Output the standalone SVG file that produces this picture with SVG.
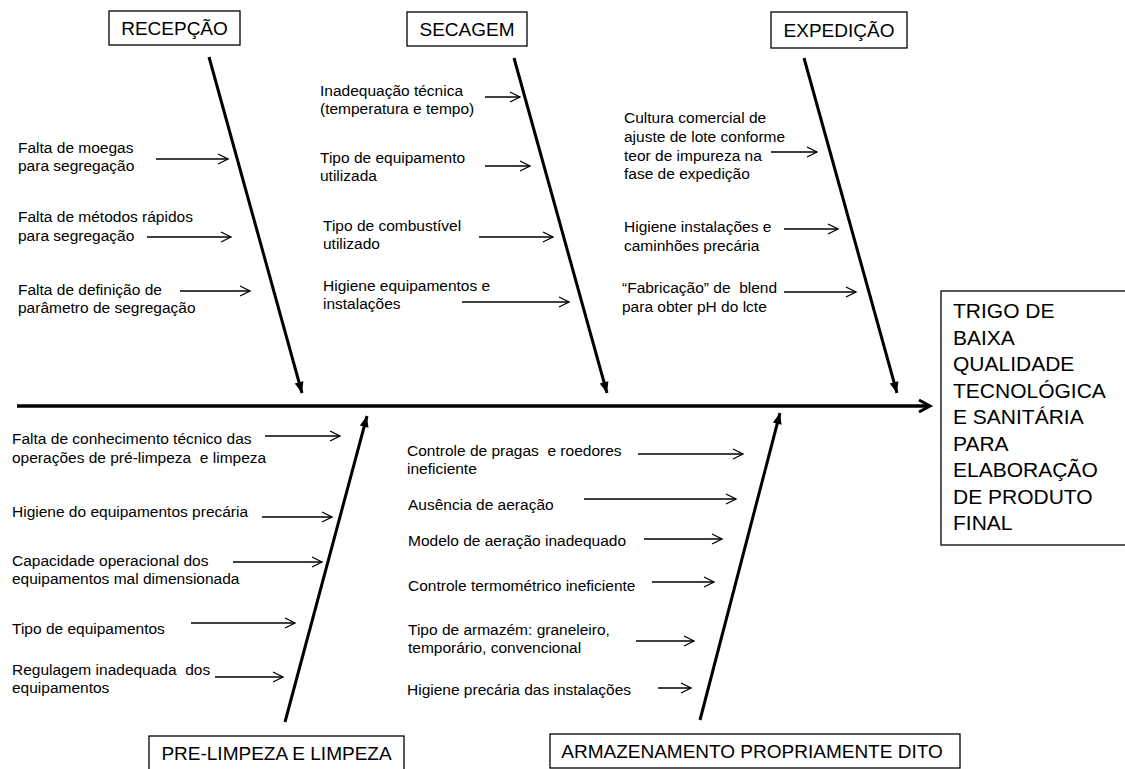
<svg xmlns="http://www.w3.org/2000/svg" width="1125" height="769" viewBox="0 0 1125 769">
<defs>
<style>
.lbl{font-family:"Liberation Sans",Arial,sans-serif;font-size:15.5px;fill:#000;white-space:pre}
.hdr{font-family:"Liberation Sans",Arial,sans-serif;font-size:19px;fill:#000;text-anchor:middle}
.res{font-family:"Liberation Sans",Arial,sans-serif;font-size:21px;fill:#000}
.box{fill:#fff;stroke:#000;stroke-width:1.3}
.bone{stroke:#000;stroke-width:3;fill:none;marker-end:url(#boneHead)}
.axis{stroke:#000;stroke-width:3.5;fill:none;marker-end:url(#axisHead)}
.cause{stroke:#000;stroke-width:1.3;fill:none;marker-end:url(#smallHead)}
</style>
<marker id="smallHead" markerUnits="userSpaceOnUse" markerWidth="12" markerHeight="12" refX="10" refY="5" orient="auto" overflow="visible">
<path d="M0,0 L10,5 L0,10" fill="none" stroke="#000" stroke-width="1.3"/>
</marker>
<marker id="boneHead" markerUnits="userSpaceOnUse" markerWidth="14" markerHeight="14" refX="11" refY="4.5" orient="auto" overflow="visible">
<path d="M0,0 L11,4.5 L0,9 z" fill="#000"/>
</marker>
<marker id="axisHead" markerUnits="userSpaceOnUse" markerWidth="16" markerHeight="16" refX="11" refY="6" orient="auto" overflow="visible">
<path d="M0,0 L11,6 L0,12" fill="none" stroke="#000" stroke-width="3"/>
</marker>
</defs>

<g id="connectors">
<line class="axis" x1="17" y1="406" x2="930" y2="406"/>
<line class="bone" x1="209" y1="57" x2="302" y2="393"/>
<line class="bone" x1="514" y1="58" x2="607" y2="393"/>
<line class="bone" x1="804" y1="58" x2="897" y2="393"/>
<line class="bone" x1="285" y1="722" x2="367" y2="416"/>
<line class="bone" x1="700" y1="720" x2="780" y2="413"/>
<line class="cause" x1="156" y1="159" x2="228" y2="159"/>
<line class="cause" x1="147" y1="237" x2="231" y2="237"/>
<line class="cause" x1="180" y1="291" x2="250" y2="291"/>
<line class="cause" x1="485" y1="97" x2="520" y2="97"/>
<line class="cause" x1="485" y1="166" x2="530" y2="166"/>
<line class="cause" x1="479" y1="237" x2="553" y2="237"/>
<line class="cause" x1="462" y1="302" x2="569" y2="302"/>
<line class="cause" x1="771" y1="152" x2="817" y2="152"/>
<line class="cause" x1="784" y1="229" x2="838" y2="229"/>
<line class="cause" x1="784" y1="292" x2="856" y2="292"/>
<line class="cause" x1="265" y1="436" x2="340" y2="436"/>
<line class="cause" x1="262" y1="517" x2="332" y2="517"/>
<line class="cause" x1="233" y1="562" x2="322" y2="562"/>
<line class="cause" x1="191" y1="623" x2="295" y2="623"/>
<line class="cause" x1="215" y1="677" x2="283" y2="677"/>
<line class="cause" x1="638" y1="454" x2="743" y2="454"/>
<line class="cause" x1="584" y1="499" x2="736" y2="499"/>
<line class="cause" x1="644" y1="539" x2="722" y2="539"/>
<line class="cause" x1="652" y1="582" x2="714" y2="582"/>
<line class="cause" x1="636" y1="641" x2="694" y2="641"/>
<line class="cause" x1="658" y1="688" x2="691" y2="688"/>
</g>

<g id="recepcao">
<rect class="box" x="109" y="11" width="131" height="34"/>
<text class="hdr" x="174.5" y="35">RECEPÇÃO</text>
</g>
<g id="secagem">
<rect class="box" x="407" y="12" width="120" height="34"/>
<text class="hdr" x="467" y="36">SECAGEM</text>
</g>
<g id="expedicao">
<rect class="box" x="771" y="12" width="136" height="36"/>
<text class="hdr" x="839" y="37">EXPEDIÇÃO</text>
</g>
<g id="pre-limpeza">
<rect class="box" x="149" y="736" width="255" height="40"/>
<text class="hdr" x="276.5" y="760">PRE-LIMPEZA E LIMPEZA</text>
</g>
<g id="armazenamento">
<rect class="box" x="550" y="734" width="410" height="34"/>
<text class="hdr" x="752" y="758">ARMAZENAMENTO PROPRIAMENTE DITO</text>
</g>
<g id="resultado">
<rect class="box" x="941" y="291" width="200" height="254"/>
<text class="res" x="953"><tspan x="953" y="318">TRIGO DE</tspan><tspan x="953" y="344.5">BAIXA</tspan><tspan x="953" y="371">QUALIDADE</tspan><tspan x="953" y="397.5">TECNOLÓGICA</tspan><tspan x="953" y="424">E SANITÁRIA</tspan><tspan x="953" y="450.5">PARA</tspan><tspan x="953" y="477">ELABORAÇÃO</tspan><tspan x="953" y="503.5">DE PRODUTO</tspan><tspan x="953" y="530">FINAL</tspan></text>
</g>

<g id="causas-recepcao">
<text class="lbl"><tspan x="18" y="153">Falta de moegas</tspan><tspan x="18" y="171">para segregação</tspan></text>
<text class="lbl"><tspan x="18" y="222">Falta de métodos rápidos</tspan><tspan x="18" y="241">para segregação</tspan></text>
<text class="lbl"><tspan x="18" y="295">Falta de definição de</tspan><tspan x="18" y="313">parâmetro de segregação</tspan></text>
</g>
<g id="causas-secagem">
<text class="lbl"><tspan x="320" y="96">Inadequação técnica</tspan><tspan x="320" y="114">(temperatura e tempo)</tspan></text>
<text class="lbl"><tspan x="320" y="163">Tipo de equipamento</tspan><tspan x="320" y="181">utilizada</tspan></text>
<text class="lbl"><tspan x="323" y="231">Tipo de combustível</tspan><tspan x="323" y="249">utilizado</tspan></text>
<text class="lbl"><tspan x="323" y="291">Higiene equipamentos e</tspan><tspan x="323" y="309">instalações</tspan></text>
</g>
<g id="causas-expedicao">
<text class="lbl"><tspan x="624" y="123">Cultura comercial de</tspan><tspan x="624" y="142">ajuste de lote conforme</tspan><tspan x="624" y="161">teor de impureza na</tspan><tspan x="624" y="179">fase de expedição</tspan></text>
<text class="lbl"><tspan x="624" y="232">Higiene instalações e</tspan><tspan x="624" y="251">caminhões precária</tspan></text>
<text class="lbl"><tspan x="622" y="293">“Fabricação” de  blend</tspan><tspan x="622" y="312">para obter pH do lcte</tspan></text>
</g>
<g id="causas-pre-limpeza">
<text class="lbl"><tspan x="12" y="444">Falta de conhecimento técnico das</tspan><tspan x="12" y="463">operações de pré-limpeza  e limpeza</tspan></text>
<text class="lbl"><tspan x="12" y="517">Higiene do equipamentos precária</tspan></text>
<text class="lbl"><tspan x="12" y="566">Capacidade operacional dos</tspan><tspan x="12" y="584">equipamentos mal dimensionada</tspan></text>
<text class="lbl"><tspan x="12" y="634">Tipo de equipamentos</tspan></text>
<text class="lbl"><tspan x="12" y="675">Regulagem inadequada  dos</tspan><tspan x="12" y="693">equipamentos</tspan></text>
</g>
<g id="causas-armazenamento">
<text class="lbl"><tspan x="407" y="456">Controle de pragas  e roedores</tspan><tspan x="407" y="474">ineficiente</tspan></text>
<text class="lbl"><tspan x="408" y="510">Ausência de aeração</tspan></text>
<text class="lbl"><tspan x="408" y="546">Modelo de aeração inadequado</tspan></text>
<text class="lbl"><tspan x="408" y="591">Controle termométrico ineficiente</tspan></text>
<text class="lbl"><tspan x="408" y="635">Tipo de armazém: graneleiro,</tspan><tspan x="408" y="653">temporário, convencional</tspan></text>
<text class="lbl"><tspan x="407" y="695">Higiene precária das instalações</tspan></text>
</g>
</svg>
